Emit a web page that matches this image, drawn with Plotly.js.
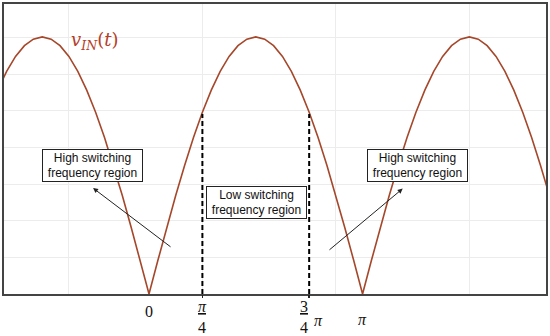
<!DOCTYPE html>
<html>
<head>
<meta charset="utf-8">
<script src="https://cdn.plot.ly/plotly-3.0.1.min.js"></script>
<style>html,body{margin:0;padding:0;background:#fff;}#chart{width:550px;height:336px;}</style>
</head>
<body>
<div id="chart"></div>
<script>
// Rectified input voltage |v_IN(t)|, sampled every pi/24 (x in units of pi), starting at -17/24 pi
const curveStart = -17 / 24;
const curveStep = 1 / 24;
const vinValues = [
  0.793, 0.866, 0.924, 0.966, 0.991, 1.000, 0.991, 0.966, 0.924, 0.866, 0.793, 0.707,
  0.609, 0.500, 0.383, 0.259, 0.131, 0.000,
  0.131, 0.259, 0.383, 0.500, 0.609, 0.707, 0.793, 0.866, 0.924, 0.966, 0.991, 1.000,
  0.991, 0.966, 0.924, 0.866, 0.793, 0.707, 0.609, 0.500, 0.383, 0.259, 0.131, 0.000,
  0.131, 0.259, 0.383, 0.500, 0.609, 0.707, 0.793, 0.866, 0.924, 0.966, 0.991, 1.000,
  0.991, 0.966, 0.924, 0.866, 0.793, 0.707, 0.609, 0.500, 0.383
];

// Region boundaries (dashed lines) at pi/4 and 3pi/4
const boundaryX = [0.25, 0.75];
const boundaryTop = [0.700, 0.700];

// Tick labels (x in units of pi)
const tickX = [0, 0.25, 0.75, 0.75, 1];
const tickText = ['0', '<u><i>π</i></u><br>4', '<u>3</u><br>4', '<i>π</i>', '<i>π</i>'];
const tickShift = [0, 0, -5, 9, 0];
const tickY = [-0.062, -0.08, -0.08, -0.09, -0.088];

// Region boxes
const boxText = ['High switching<br>frequency region', 'Low switching<br>frequency region', 'High switching<br>frequency region'];
const boxX = [-0.265, 0.503, 1.255];
const boxY = [0.50, 0.354, 0.50];

// Arrows: head and tail positions
const arrowHeadX = [-0.262, 1.188];
const arrowHeadY = [0.412, 0.410];
const arrowTailX = [0.108, 0.838];
const arrowTailY = [0.179, 0.167];

const curveColor = '#A5472A';

const traces = [{
  type: 'scatter', mode: 'lines',
  x0: curveStart, dx: curveStep, y: vinValues,
  line: {color: curveColor, width: 1.6},
  hoverinfo: 'skip', showlegend: false
}];
boundaryX.forEach((bx, i) => {
  traces.push({
    type: 'scatter', mode: 'lines',
    x: [bx, bx], y: [0, boundaryTop[i]],
    line: {color: '#000', width: 2, dash: '5px,3px'},
    hoverinfo: 'skip', showlegend: false
  });
});

const annotations = [];
annotations.push({
  xref: 'x', yref: 'y', x: -0.253, y: 0.985,
  text: '<i>v</i><sub><i>IN</i></sub>(<i>t</i>)',
  showarrow: false,
  font: {family: 'DejaVu Serif', size: 18, color: '#B5402A'}
});
boxText.forEach((t, i) => {
  annotations.push({
    xref: 'x', yref: 'y', x: boxX[i], y: boxY[i],
    text: t, showarrow: false,
    width: 97, height: 29, borderpad: 1,
    bgcolor: '#fff', bordercolor: '#222', borderwidth: 1,
    font: {family: 'Liberation Sans, Arial', size: 12, color: '#111'}
  });
});
arrowHeadX.forEach((hx, i) => {
  annotations.push({
    xref: 'x', yref: 'y', x: hx, y: arrowHeadY[i],
    axref: 'x', ayref: 'y', ax: arrowTailX[i], ay: arrowTailY[i],
    text: '', showarrow: true,
    arrowhead: 2, arrowsize: 1, arrowwidth: 1, arrowcolor: '#222'
  });
});
tickX.forEach((tx, i) => {
  annotations.push({
    xref: 'x', yref: 'paper', x: tx, y: tickY[i],
    xshift: tickShift[i], yanchor: 'middle',
    text: tickText[i], showarrow: false,
    font: {family: 'Liberation Serif', size: 16, color: '#111'}
  });
});

const layout = {
  width: 550, height: 336,
  margin: {l: 4, r: 4, t: 4, b: 42},
  paper_bgcolor: '#fff', plot_bgcolor: '#fff',
  showlegend: false,
  xaxis: {
    range: [-0.679, 1.859], tick0: 0.25, dtick: 0.625,
    showticklabels: false, ticks: '',
    showgrid: true, gridcolor: '#ececec', gridwidth: 1,
    zeroline: false, showline: true, mirror: true,
    linecolor: '#444', linewidth: 2
  },
  xaxis2: {
    overlaying: 'x', matches: 'x', side: 'bottom',
    tickmode: 'array', tickvals: boundaryX, ticktext: ['', ''],
    ticks: 'outside', ticklen: 3, tickcolor: '#222', tickwidth: 1.5,
    showticklabels: false, showgrid: false, zeroline: false, showline: false
  },
  yaxis: {
    range: [0, 1.128], tick0: 0, dtick: 0.1425,
    showticklabels: false, ticks: '',
    showgrid: true, gridcolor: '#ececec', gridwidth: 1,
    zeroline: false, showline: true, mirror: true,
    linecolor: '#444', linewidth: 2
  },
  annotations: annotations
};

// invisible trace to instantiate xaxis2 (boundary tick marks)
traces.push({type: 'scatter', mode: 'lines', x: boundaryX, y: [0, 0], xaxis: 'x2',
  line: {color: 'rgba(0,0,0,0)'}, hoverinfo: 'skip', showlegend: false});

Plotly.newPlot('chart', traces, layout, {staticPlot: true, displayModeBar: false});
</script>
</body>
</html>
